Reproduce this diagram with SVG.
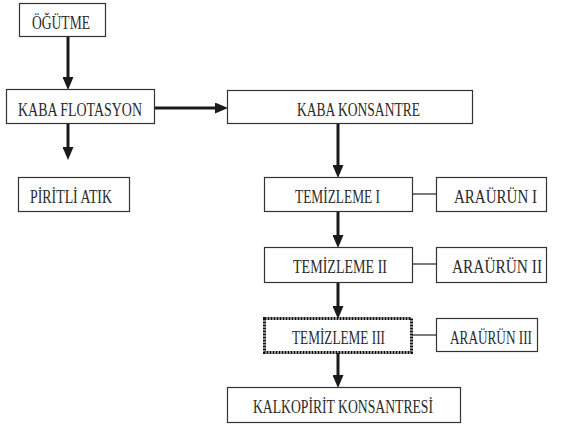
<svg xmlns="http://www.w3.org/2000/svg" width="567" height="426" viewBox="0 0 567 426">
<style>
.box{fill:#fff;stroke:#333;stroke-width:1.2}
.dot{fill:#fff;stroke:#111;stroke-width:3;stroke-dasharray:2 1}
.t{font-family:"Liberation Serif","Times New Roman",serif;font-size:18px;fill:#2a2a2a}
.arr{stroke:#1a1a1a;stroke-width:3;fill:none;marker-end:url(#ah)}
.thin{stroke:#222;stroke-width:1.2;fill:none}
</style>
<defs>
<marker id="ah" markerUnits="userSpaceOnUse" viewBox="0 0 13 11" markerWidth="13" markerHeight="11" refX="4" refY="5.5" orient="auto">
<path d="M0,0 L13,5.5 L0,11 Z" fill="#1a1a1a"/>
</marker>
</defs>
<g id="connectors">
<path class="arr" d="M68,36 V81"/>
<path class="arr" d="M68,124 V151"/>
<path class="arr" d="M154,108 H219"/>
<path class="arr" d="M338,123 V169"/>
<path class="arr" d="M338,212 V239"/>
<path class="arr" d="M338,283 V310"/>
<path class="arr" d="M338,353 V379"/>
<path class="thin" d="M412,194 H436"/>
<path class="thin" d="M412,264 H436"/>
<path class="thin" d="M412,335 H436"/>
</g>
<g id="ogutme"><rect class="box" x="19.5" y="3.5" width="86" height="33"/><text class="t" x="32" y="29" textLength="58" lengthAdjust="spacingAndGlyphs">ÖĞÜTME</text></g>
<g id="kaba-flotasyon"><rect class="box" x="6.5" y="89.5" width="148" height="34"/><text class="t" x="18" y="116" textLength="124" lengthAdjust="spacingAndGlyphs">KABA FLOTASYON</text></g>
<g id="piritli-atik"><rect class="box" x="18.5" y="177.5" width="111" height="34"/><text class="t" x="30" y="203" textLength="82" lengthAdjust="spacingAndGlyphs">PİRİTLİ ATIK</text></g>
<g id="kaba-konsantre"><rect class="box" x="227.5" y="90.5" width="245" height="33"/><text class="t" x="297" y="116" textLength="123" lengthAdjust="spacingAndGlyphs">KABA KONSANTRE</text></g>
<g id="temizleme-1"><rect class="box" x="264.5" y="177.5" width="148" height="34"/><text class="t" x="295" y="203" textLength="85" lengthAdjust="spacingAndGlyphs">TEMİZLEME I</text></g>
<g id="araurun-1"><rect class="box" x="436.5" y="177.5" width="110" height="34"/><text class="t" x="454" y="203" textLength="83" lengthAdjust="spacingAndGlyphs">ARAÜRÜN I</text></g>
<g id="temizleme-2"><rect class="box" x="264.5" y="247.5" width="148" height="35"/><text class="t" x="293" y="273" textLength="94" lengthAdjust="spacingAndGlyphs">TEMİZLEME II</text></g>
<g id="araurun-2"><rect class="box" x="436.5" y="247.5" width="110" height="35"/><text class="t" x="452" y="273" textLength="90" lengthAdjust="spacingAndGlyphs">ARAÜRÜN II</text></g>
<g id="temizleme-3"><rect class="dot" x="264.5" y="318.5" width="147" height="34"/><text class="t" x="292" y="344" textLength="93" lengthAdjust="spacingAndGlyphs">TEMİZLEME III</text></g>
<g id="araurun-3"><rect class="box" x="436.5" y="318.5" width="101" height="33"/><text class="t" x="450" y="344" textLength="82" lengthAdjust="spacingAndGlyphs">ARAÜRÜN III</text></g>
<g id="kalkopirit"><rect class="box" x="227.5" y="387.5" width="233" height="35"/><text class="t" x="253" y="413" textLength="180" lengthAdjust="spacingAndGlyphs">KALKOPİRİT KONSANTRESİ</text></g>
</svg>
